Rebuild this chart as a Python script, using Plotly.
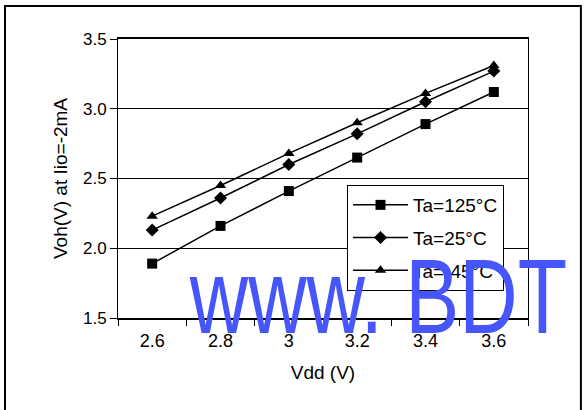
import plotly.graph_objects as go

vdd = ["2.6", "2.8", "3", "3.2", "3.4", "3.6"]
ta125 = [1.89, 2.16, 2.41, 2.65, 2.89, 3.12]
ta25 = [2.13, 2.36, 2.60, 2.82, 3.05, 3.27]
tam45 = [2.23, 2.45, 2.68, 2.90, 3.11, 3.31]
names = ["Ta=125°C", "Ta=25°C", "Ta=-45°C"]
y_ticks = [1.5, 2.0, 2.5, 3.0, 3.5]

FONT = "Liberation Sans, Arial, sans-serif"

fig = go.Figure()
series = [(ta125, "square", 10), (ta25, "diamond", 10), (tam45, "triangle-up", 10)]
for (vals, sym, sz), nm in zip(series, names):
    fig.add_trace(go.Scatter(
        x=vdd, y=vals, name=nm, mode="lines+markers",
        line=dict(color="black", width=1.5),
        marker=dict(symbol=sym, size=sz, color="black"),
        legendgroup=nm,
    ))

fig.update_layout(
    width=586, height=410,
    margin=dict(l=118, r=58, t=39, b=92),
    paper_bgcolor="white", plot_bgcolor="white",
    font=dict(family=FONT, color="black", size=16),
    showlegend=True,
    legend=dict(
        x=0.5585, y=0.4767, xanchor="left", yanchor="top",
        bgcolor="white", bordercolor="black", borderwidth=1,
        font=dict(size=19, family=FONT), tracegroupgap=5,
        itemwidth=55,
    ),
    xaxis=dict(
        type="category", tickson="boundaries", ticks="outside", ticklen=6,
        range=[-0.5, len(vdd) - 0.5],
        tickcolor="black", showline=True, linecolor="black", linewidth=2,
        mirror=True, showgrid=False, ticklabelstandoff=5, automargin=False,
        title=dict(text="Vdd (V)", font=dict(size=19), standoff=16),
        tickfont=dict(size=18),
    ),
    yaxis=dict(
        range=[1.5, 3.5], tickvals=y_ticks, tickformat=".1f",
        ticks="outside", ticklen=7, tickcolor="black", automargin=False,
        showline=True, linecolor="black", linewidth=1, mirror=True,
        showgrid=True, gridcolor="black", gridwidth=1, zeroline=False,
        ticklabelstandoff=0,
        title=dict(text="Voh(V) at Iio=-2mA", font=dict(size=19), standoff=10),
        tickfont=dict(size=17),
    ),
)

# outer frame
fig.add_shape(type="rect", xref="paper", yref="paper",
              x0=-0.2756, x1=1.129, y0=-0.34, y1=1.118,
              line=dict(color="black", width=2), fillcolor="rgba(0,0,0,0)")

# watermark
fig.add_annotation(text="www. BDT", xref="paper", yref="paper",
                   x=0.168, y=0.0753, xanchor="left", yanchor="middle",
                   showarrow=False,
                   font=dict(family=FONT, size=105, color="#4656fb"))

post = """
document.body.style.margin = '0';
document.body.style.padding = '0';
document.body.style.overflow = 'hidden';
var gd = document.getElementById('{plot_id}');
function squeeze(){
  document.querySelectorAll('.annotation-text').forEach(function(t){
    if (t.textContent.indexOf('BDT') >= 0){
      t.style.transformBox = 'fill-box';
      t.style.transformOrigin = 'left center';
      t.style.transform = 'scaleX(0.77)';
    }
  });
}
squeeze();
if (gd && gd.on) { gd.on('plotly_afterplot', squeeze); }
"""

fig.write_html("out.html", post_script=post, config={"displayModeBar": False})
